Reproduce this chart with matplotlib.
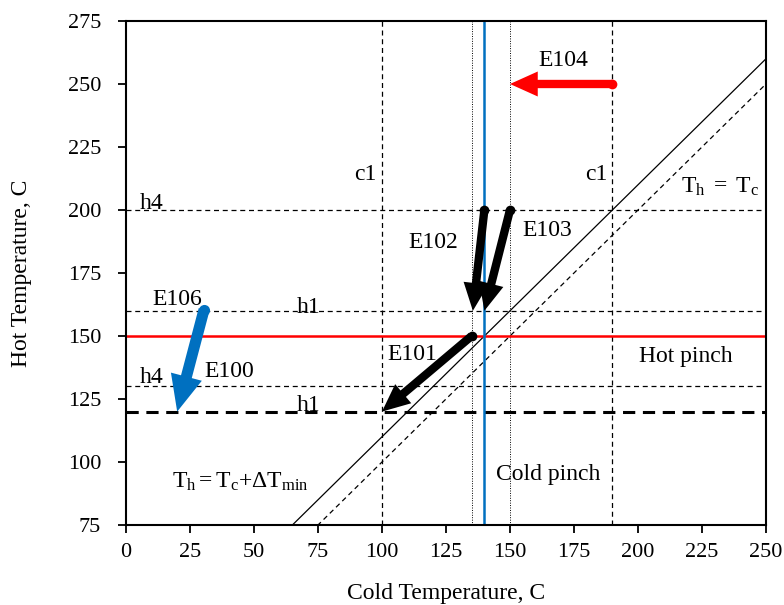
import numpy as np
import matplotlib
matplotlib.use('Agg')
import matplotlib.pyplot as plt

plt.rcParams['font.family'] = ['Liberation Serif', 'DejaVu Serif']
plt.rcParams['mathtext.fontset'] = 'custom'
plt.rcParams['mathtext.rm'] = 'Liberation Serif'
plt.rcParams['mathtext.it'] = 'Liberation Serif:italic'

# Data
dt_min = 10
diag_x = [65, 250]
cold_lines = [100, 190]          # c1 supply / target
dotted_lines = [135, 150]
cold_pinch = 140
hot_lines = [200, 160, 130]      # h4, h1, h4
h1_target = 120
hot_pinch = 150

# exchanger arrows: name, (tail), (tip), colour
arrows = [
    ('E104', (190, 250), (150, 250), '#FF0000'),
    ('E102', (140, 200), (135.5, 160), 'black'),
    ('E103', (150, 200), (140, 160), 'black'),
    ('E101', (135, 150), (100, 120), 'black'),
    ('E106', (30.5, 160.5), (20, 120), '#0070C0'),
]
arrow_labels = [
    ('E104', 170.7, 259.5),
    ('E102', 120, 187),
    ('E103', 164.5, 192),
    ('E101', 112, 142.5),
    ('E106', 20, 164.3),
    ('E100', 40.5, 136),
]
stream_labels = [
    ('c1', 98, 214),
    ('c1', 188, 214),
    ('h4', 10, 202.5),
    ('h1', 71.5, 161.5),
    ('h4', 10, 133.5),
    ('h1', 71.5, 122.5),
]

fig = plt.figure(figsize=(7.84, 6.05), dpi=100)
ax = fig.add_axes([0.1607, 0.1322, 0.8163, 0.8331])

# Pinch lines
x = np.array(diag_x)
ax.plot(x, x + dt_min, color='black', lw=0.9)
ax.plot(x, x, color='black', lw=0.9, ls=(0, (4, 3)))

for c in cold_lines:
    ax.axvline(c, color='black', lw=0.9, ls=(0, (4, 3)))
for c in dotted_lines:
    ax.axvline(c, color='black', lw=0.7, ls=(0, (1, 1.5)))
for h in hot_lines:
    ax.axhline(h, color='black', lw=0.9, ls=(0, (4, 3)))
ax.axhline(h1_target, color='black', lw=2.2, ls=(0, (4, 2.5)))
ax.axhline(hot_pinch, color='#FF0000', lw=1.8)
ax.axvline(cold_pinch, color='#0070C0', lw=1.8)

# Arrows
for name, tail, tip, col in arrows:
    if col == '#0070C0':
        style = 'simple,head_width=1.15,head_length=1.3,tail_width=0.4'
        ms = 8
    else:
        style = 'simple,head_width=0.9,head_length=1.0,tail_width=0.3'
        ms = 7
    ax.annotate('', xy=tip, xytext=tail,
                arrowprops=dict(arrowstyle=style, color=col, mutation_scale=20,
                                shrinkA=0, shrinkB=0, lw=0))
    ax.plot(tail[0], tail[1], 'o', color=col, ms=ms, mew=0)

# Labels
fs = 17
for t, lx, ly in arrow_labels:
    ax.text(lx, ly, t, fontsize=fs, ha='center', va='center')
for t, lx, ly in stream_labels:
    ha = 'right' if t == 'c1' else 'center'
    ax.text(lx, ly, t, fontsize=fs, ha=ha, va='center')

ax.text(218.7, 141.7, 'Hot pinch', fontsize=fs, ha='center', va='center')
ax.text(164.8, 95, 'Cold pinch', fontsize=fs, ha='center', va='center')
ax.text(232, 209, r'$\mathrm{T_h\ =\ T_c}$', fontsize=fs, ha='center', va='center')
ax.text(44.5, 92, r'$\mathrm{T_h{=}T_c{+}ΔT_{min}}$', fontsize=fs, ha='center', va='center')

# Graph UI
ax.set_xlim(0, 250)
ax.set_ylim(75, 275)
ax.set_xticks(np.arange(0, 251, 25))
ax.set_yticks(np.arange(75, 276, 25))
ax.tick_params(direction='out', length=6, width=1.3, labelsize=16)
ax.tick_params(axis='x', pad=7)
ax.tick_params(axis='y', pad=12)
for s in ax.spines.values():
    s.set_linewidth(1.5)

ax.set_xlabel('Cold Temperature, C', fontsize=fs, labelpad=15)
ax.set_ylabel('Hot Temperature, C', fontsize=fs, labelpad=26)

fig.savefig('out.png', dpi=100)
